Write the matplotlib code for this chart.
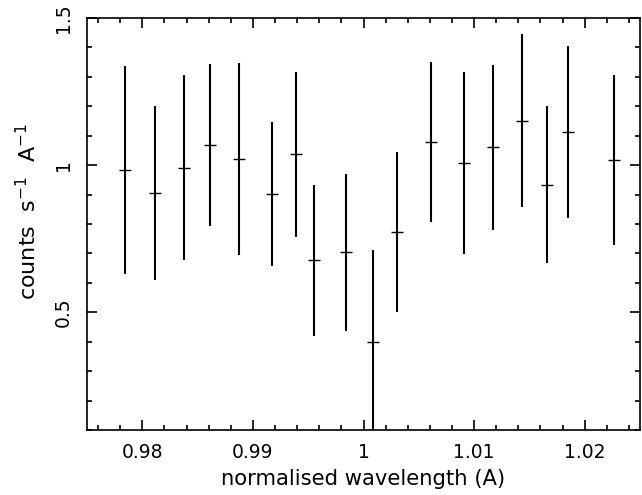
import matplotlib.pyplot as plt
from matplotlib.ticker import MultipleLocator, FormatStrFormatter

# binned line profile
WAVELENGTH = [0.97841, 0.98111, 0.98381, 0.98616, 0.98874, 0.99174,
              0.99387, 0.99550, 0.99838, 1.00084, 1.00306, 1.00613,
              1.00907, 1.01168, 1.01429, 1.01655, 1.01850, 1.02264]
COUNTS = [0.984, 0.906, 0.991, 1.069, 1.020, 0.901,
          1.037, 0.676, 0.704, 0.399, 0.772, 1.079,
          1.006, 1.060, 1.151, 0.934, 1.113, 1.018]
ERRORS = [0.354, 0.295, 0.315, 0.276, 0.326, 0.244,
          0.280, 0.255, 0.266, 0.313, 0.272, 0.272,
          0.309, 0.280, 0.294, 0.267, 0.293, 0.290]

plt.rcParams['mathtext.default'] = 'regular'
plt.rcParams['font.family'] = 'DejaVu Sans'

fig = plt.figure(figsize=(6.42, 4.95), dpi=100)
ax = fig.add_axes([87 / 642, 65 / 495, 553 / 642, 412 / 495])

ax.errorbar(WAVELENGTH, COUNTS,
            yerr=ERRORS,
            color="black",
            linestyle="None",
            marker="_",
            markersize=9,
            markeredgewidth=1.0,
            elinewidth=1.5,
            capsize=0)

ax.set_xlim(0.975, 1.025)
ax.set_ylim(0.1, 1.5)

ax.xaxis.set_major_locator(MultipleLocator(0.01))
ax.xaxis.set_minor_locator(MultipleLocator(0.002))
ax.yaxis.set_major_locator(MultipleLocator(0.5))
ax.yaxis.set_minor_locator(MultipleLocator(0.1))
ax.xaxis.set_major_formatter(FormatStrFormatter("%g"))
ax.yaxis.set_major_formatter(FormatStrFormatter("%g"))

for spine in ax.spines.values():
    spine.set_linewidth(1.2)

ax.tick_params(which="both", direction="in", top=True, right=True,
               width=1.2, labelsize=13.5)
ax.tick_params(which="major", length=7.5)
ax.tick_params(which="minor", length=3.8)
ax.tick_params(axis="x", which="major", pad=9.5)
ax.tick_params(axis="y", which="major", pad=10)

for label in ax.get_yticklabels():
    label.set_rotation(90)
    label.set_verticalalignment("center")

ax.set_xlabel("normalised wavelength (A)", fontsize=15.2, labelpad=5)
ax.set_ylabel("counts  s$^{-1}$  A$^{-1}$", fontsize=16)
ax.yaxis.label.set_verticalalignment("center")
ax.yaxis.set_label_coords(-0.108, 0.53)

fig.savefig("out.png", dpi=100)
